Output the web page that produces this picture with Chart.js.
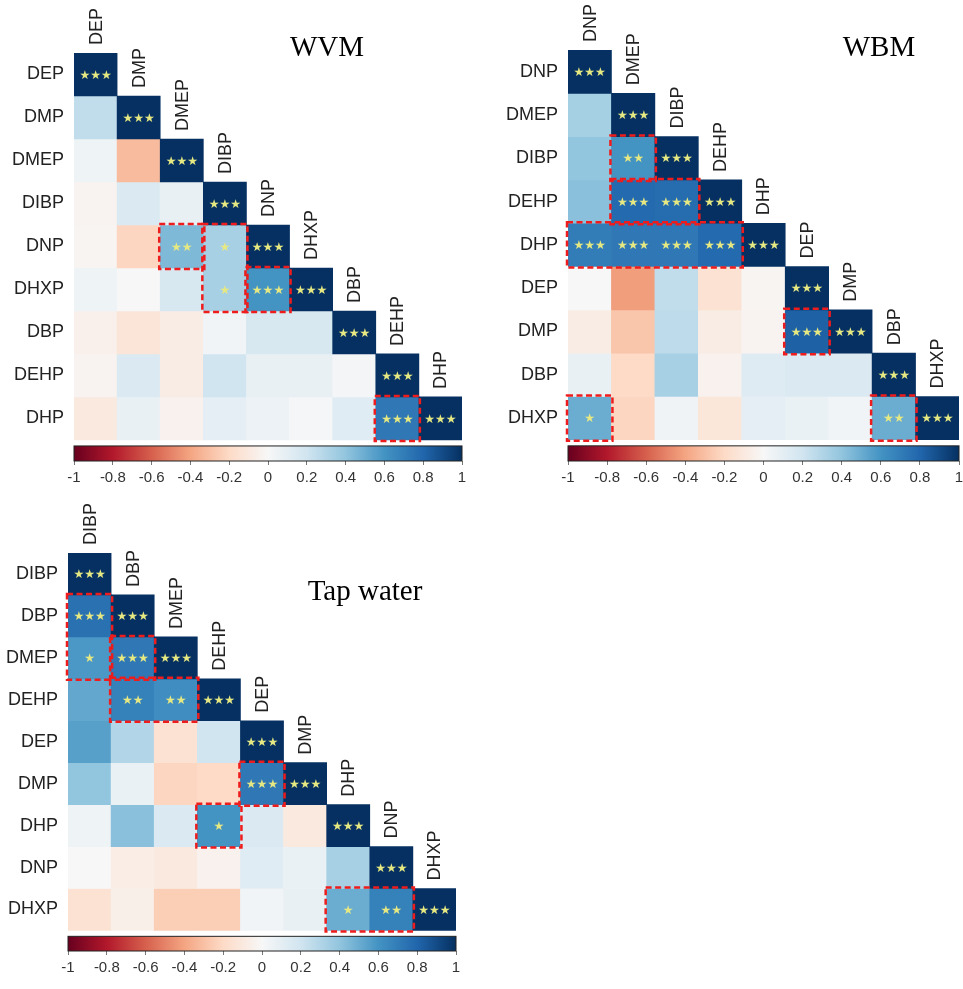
<!DOCTYPE html>
<html>
<head>
<meta charset="utf-8">
<script src="https://cdn.jsdelivr.net/npm/chart.js@4.4.0/dist/chart.umd.min.js"></script>
<style>
  html, body { margin: 0; padding: 0; background: #fff; overflow: hidden; }
  body { width: 963px; height: 989px; position: relative; }
  canvas { position: absolute; }
</style>
</head>
<body>
<canvas id="wvm" width="482" height="500" style="left:0;top:0"></canvas>
<canvas id="wbm" width="494" height="500" style="left:485px;top:0"></canvas>
<canvas id="tap" width="482" height="499" style="left:0;top:490px"></canvas>
<script>
// ---- WVM ----
const wvmVars = ['DEP', 'DMP', 'DMEP', 'DIBP', 'DNP', 'DHXP', 'DBP', 'DEHP', 'DHP'];
const wvmValues = [
  [1],
  [0.25, 1],
  [0.05, -0.32, 1],
  [-0.03, 0.15, 0.08, 1],
  [-0.02, -0.22, 0.45, 0.33, 1],
  [0.05, 0.0, 0.17, 0.33, 0.6, 1],
  [-0.05, -0.13, -0.08, 0.03, 0.17, 0.17, 1],
  [-0.03, 0.15, -0.08, 0.2, 0.08, 0.08, 0.02, 1],
  [-0.1, 0.08, -0.04, 0.1, 0.06, 0.01, 0.12, 0.72, 1]
];
// [row, col, stars] off the diagonal (diagonal is always ***)
const wvmSig = [[4, 2, '**'], [4, 3, '*'], [5, 3, '*'], [5, 4, '***'], [8, 7, '***']];
// dashed boxes: [row0, col0, row1, col1]
const wvmBoxes = [[4, 2, 4, 2], [4, 3, 5, 3], [5, 4, 5, 4], [8, 7, 8, 7]];

// ---- WBM ----
const wbmVars = ['DNP', 'DMEP', 'DIBP', 'DEHP', 'DHP', 'DEP', 'DMP', 'DBP', 'DHXP'];
const wbmValues = [
  [1],
  [0.34, 1],
  [0.4, 0.6, 1],
  [0.42, 0.78, 0.77, 1],
  [0.7, 0.72, 0.72, 0.78, 1],
  [0.0, -0.42, 0.25, -0.15, -0.02, 1],
  [-0.08, -0.28, 0.26, -0.08, -0.03, 0.82, 1],
  [0.08, -0.2, 0.33, -0.04, 0.13, 0.15, 0.15, 1],
  [0.5, -0.22, 0.04, -0.12, 0.1, 0.07, 0.03, 0.5, 1]
];
const wbmSig = [[2, 1, '**'], [3, 1, '***'], [3, 2, '***'], [4, 0, '***'], [4, 1, '***'],
  [4, 2, '***'], [4, 3, '***'], [6, 5, '***'], [8, 0, '*'], [8, 7, '**']];
const wbmBoxes = [[2, 1, 2, 1], [3, 1, 3, 2], [4, 0, 4, 3], [6, 5, 6, 5], [8, 0, 8, 0], [8, 7, 8, 7]];

// ---- Tap water ----
const tapVars = ['DIBP', 'DBP', 'DMEP', 'DEHP', 'DEP', 'DMP', 'DHP', 'DNP', 'DHXP'];
const tapValues = [
  [1],
  [0.75, 1],
  [0.58, 0.72, 1],
  [0.52, 0.68, 0.62, 1],
  [0.55, 0.3, -0.15, 0.2, 1],
  [0.4, 0.07, -0.22, -0.2, 0.72, 1],
  [0.05, 0.42, 0.15, 0.6, 0.15, -0.1, 1],
  [0.0, -0.07, -0.1, -0.04, 0.12, 0.07, 0.33, 1],
  [-0.15, -0.06, -0.25, -0.25, 0.03, 0.08, 0.5, 0.68, 1]
];
const tapSig = [[1, 0, '***'], [2, 0, '*'], [2, 1, '***'], [3, 1, '**'], [3, 2, '**'],
  [5, 4, '***'], [6, 3, '*'], [8, 6, '*'], [8, 7, '**']];
const tapBoxes = [[1, 0, 2, 0], [2, 1, 2, 1], [3, 1, 3, 2], [5, 4, 5, 4], [6, 3, 6, 3], [8, 6, 8, 7]];

// colour bar ticks
const cbTicks = [-1, -0.8, -0.6, -0.4, -0.2, 0, 0.2, 0.4, 0.6, 0.8, 1];
// RdBu palette
const rdbu = ['#67001f', '#b2182b', '#d6604d', '#f4a582', '#fddbc7', '#f7f7f7',
  '#d1e5f0', '#92c5de', '#4393c3', '#2166ac', '#053061'];

function hex(c) {
  return [parseInt(c.slice(1, 3), 16), parseInt(c.slice(3, 5), 16), parseInt(c.slice(5, 7), 16)];
}
function colorFor(v) {
  const t = (Math.max(-1, Math.min(1, v)) + 1) / 2 * (rdbu.length - 1);
  const i = Math.min(Math.floor(t), rdbu.length - 2);
  const f = t - i;
  const a = hex(rdbu[i]), b = hex(rdbu[i + 1]);
  const m = a.map((x, k) => Math.round(x + (b[k] - x) * f));
  return `rgb(${m[0]},${m[1]},${m[2]})`;
}

const GAP = 0.14;   // gap between matrix and colour bar, in cells
const BAR = 0.35;   // colour bar height, in cells
const labelFont = { family: '"Liberation Sans", Arial, sans-serif', size: 18 };

const heatPlugin = {
  id: 'heat',
  afterDatasetsDraw(chart) {
    const { ctx, chartArea, scales } = chart;
    const o = chart.options.plugins.heat;
    const n = o.vars.length;

    // colour bar
    const cb = scales.cb;
    const x0 = cb.getPixelForValue(-1), x1 = cb.getPixelForValue(1);
    const yTop = scales.y.getPixelForValue(n + GAP);
    const yBot = chartArea.bottom;
    const g = ctx.createLinearGradient(x0, 0, x1, 0);
    rdbu.forEach((c, i) => g.addColorStop(i / (rdbu.length - 1), c));
    ctx.save();
    ctx.fillStyle = g;
    ctx.fillRect(x0, yTop, x1 - x0, yBot - yTop);
    ctx.strokeStyle = '#222';
    ctx.lineWidth = 1;
    ctx.strokeRect(x0, yTop, x1 - x0, yBot - yTop);

    // significance stars
    ctx.fillStyle = '#e6e882';
    ctx.font = '12px "DejaVu Sans"';
    ctx.textAlign = 'center';
    ctx.textBaseline = 'middle';
    const star = (r, c, s) => {
      const el = chart.getDatasetMeta(r).data[c];
      ctx.fillText(s.replace(/\*/g, '★'), el.x, (el.y + el.base) / 2 + 1);
    };
    for (let i = 0; i < n; i++) star(i, i, '***');
    o.sig.forEach(([r, c, s]) => star(r, c, s));

    // dashed boxes
    ctx.strokeStyle = '#ee1c1c';
    ctx.lineWidth = 2.5;
    ctx.setLineDash([6, 3.5]);
    o.boxes.forEach(([r0, c0, r1, c1]) => {
      const a = chart.getDatasetMeta(r0).data[c0];
      const b = chart.getDatasetMeta(r1).data[c1];
      const left = a.x - a.width / 2 - 1, top = Math.min(a.y, a.base) - 1;
      const right = b.x + b.width / 2 + 1, bottom = Math.max(b.y, b.base) + 1;
      ctx.strokeRect(left, top, right - left, bottom - top);
    });
    ctx.setLineDash([]);

    // diagonal column labels
    ctx.fillStyle = '#222';
    ctx.font = `${labelFont.size}px ${labelFont.family}`;
    ctx.textAlign = 'left';
    o.vars.forEach((v, i) => {
      const el = chart.getDatasetMeta(i).data[i];
      ctx.save();
      ctx.translate(el.x + 1, Math.min(el.y, el.base) - 8);
      ctx.rotate(-Math.PI / 2);
      ctx.fillText(v, 0, 0);
      ctx.restore();
    });

    // panel title
    ctx.fillStyle = '#000';
    ctx.font = '29px "Liberation Serif", "Times New Roman", serif';
    ctx.textAlign = 'center';
    ctx.textBaseline = 'alphabetic';
    ctx.fillText(o.title, o.titleX, o.titleY);
    ctx.restore();
  }
};

function makePanel(id, vars, values, sig, boxes, title, geo) {
  const n = vars.length;
  const datasets = values.map((row, r) => ({
    label: vars[r],
    data: vars.map((_, c) => (c <= r ? [r, r + 1] : null)),
    backgroundColor: (ctx) => colorFor(values[r][ctx.dataIndex] ?? 0),
    borderWidth: 0,
    grouped: false,
    barPercentage: 1,
    categoryPercentage: 1
  }));
  new Chart(document.getElementById(id), {
    type: 'bar',
    data: { labels: vars, datasets },
    options: {
      responsive: false,
      animation: false,
      layout: { padding: { top: geo.top, right: geo.right, left: 0, bottom: 0 } },
      plugins: {
        legend: { display: false },
        tooltip: { enabled: false },
        heat: { vars, sig, boxes, title, titleX: geo.titleX, titleY: geo.titleY }
      },
      scales: {
        x: { type: 'category', display: false },
        y: {
          type: 'linear',
          reverse: true,
          min: 0,
          max: n + GAP + BAR,
          afterBuildTicks: (axis) => { axis.ticks = vars.map((_, i) => ({ value: i + 0.5 })); },
          afterFit: (axis) => { axis.width = geo.yw; },
          ticks: {
            autoSkip: false,
            padding: 10,
            color: '#222',
            font: labelFont,
            callback: (v, i) => vars[i]
          },
          grid: { display: false, drawTicks: false },
          border: { display: false }
        },
        cb: {
          type: 'linear',
          position: 'bottom',
          offset: false,
          min: -1,
          max: 1,
          afterBuildTicks: (axis) => { axis.ticks = cbTicks.map(v => ({ value: v })); },
          afterFit: (axis) => { axis.height = geo.cbh; },
          ticks: {
            autoSkip: false,
            maxRotation: 0,
            padding: 4,
            color: '#333',
            font: { family: '"Liberation Sans", Arial, sans-serif', size: 15 },
            callback: (v) => String(Number(v.toFixed(1)))
          },
          grid: { display: true, offset: false, drawOnChartArea: false, drawTicks: true, tickLength: 4, color: '#777' },
          border: { display: false }
        }
      }
    },
    plugins: [heatPlugin]
  });
}

makePanel('wvm', wvmVars, wvmValues, wvmSig, wvmBoxes, 'WVM',
  { yw: 74, top: 53, right: 20, cbh: 39, titleX: 327, titleY: 56 });
makePanel('wbm', wbmVars, wbmValues, wbmSig, wbmBoxes, 'WBM',
  { yw: 83, top: 50, right: 20, cbh: 39, titleX: 394, titleY: 56 });
makePanel('tap', tapVars, tapValues, tapSig, tapBoxes, 'Tap water',
  { yw: 68, top: 63, right: 26, cbh: 38, titleX: 365, titleY: 110 });
</script>
</body>
</html>
